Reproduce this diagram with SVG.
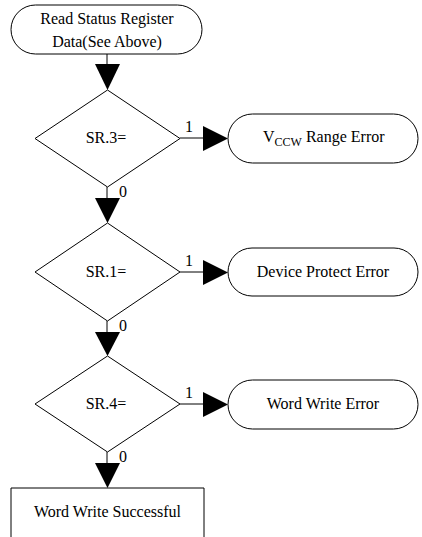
<svg xmlns="http://www.w3.org/2000/svg" width="422" height="537" viewBox="0 0 422 537">
<style>
.s{fill:#fff;stroke:#000;stroke-width:1}
.l{stroke:#000;stroke-width:1;fill:none}
.a{fill:#000;stroke:none}
text{font-family:"Liberation Serif","Times New Roman",serif;font-size:16px;fill:#000}
.m{text-anchor:middle}
</style>
<rect width="422" height="537" fill="#fff"/>
<g id="connectors">
<line class="l" x1="107" y1="54" x2="107" y2="64"/>
<polygon class="a" points="95,64 120,64 107.5,90"/>
<line class="l" x1="180" y1="138" x2="204" y2="138"/>
<polygon class="a" points="203,126 203,151 228,138.5"/>
<text x="189" y="132" class="m">1</text>
<line class="l" x1="107" y1="187" x2="107" y2="198"/>
<polygon class="a" points="95,198 120,198 107.5,223"/>
<text x="123" y="197" class="m">0</text>
<line class="l" x1="180" y1="272" x2="204" y2="272"/>
<polygon class="a" points="203,260 203,285 228,272.5"/>
<text x="189" y="266" class="m">1</text>
<line class="l" x1="107" y1="321" x2="107" y2="332"/>
<polygon class="a" points="95,332 120,332 107.5,356"/>
<text x="123" y="331" class="m">0</text>
<line class="l" x1="180" y1="404" x2="204" y2="404"/>
<polygon class="a" points="203,392 203,417 228,404.5"/>
<text x="189" y="398" class="m">1</text>
<line class="l" x1="107" y1="452" x2="107" y2="463"/>
<polygon class="a" points="95,463 120,463 107.5,488"/>
<text x="123" y="462" class="m">0</text>
</g>
<g id="start">
<rect class="s" x="11" y="5" width="191" height="49" rx="24.5"/>
<text x="107" y="24" class="m">Read Status Register</text>
<text x="107" y="47" class="m">Data(See Above)</text>
</g>
<g id="d1">
<polygon class="s" points="107.5,90 180,138.5 107.5,187 35,138.5"/>
<text x="106" y="143" class="m">SR.3=</text>
</g>
<g id="e1">
<rect class="s" x="228" y="114" width="190" height="49" rx="24.5"/>
<text x="263" y="142">V<tspan font-size="12" dy="4">CCW</tspan><tspan dy="-4"> Range Error</tspan></text>
</g>
<g id="d2">
<polygon class="s" points="107.5,223 180,272 107.5,321 35,272"/>
<text x="106" y="277" class="m">SR.1=</text>
</g>
<g id="e2">
<rect class="s" x="228" y="248" width="190" height="48" rx="24"/>
<text x="323" y="277" class="m">Device Protect Error</text>
</g>
<g id="d3">
<polygon class="s" points="107.5,356 180,404 107.5,452 35,404"/>
<text x="106" y="409" class="m">SR.4=</text>
</g>
<g id="e3">
<rect class="s" x="228" y="380" width="190" height="49" rx="24.5"/>
<text x="323" y="409" class="m">Word Write Error</text>
</g>
<g id="done">
<path class="l" d="M11,540 V488 H204 V540"/>
<text x="107.5" y="517" class="m">Word Write Successful</text>
</g>
</svg>
